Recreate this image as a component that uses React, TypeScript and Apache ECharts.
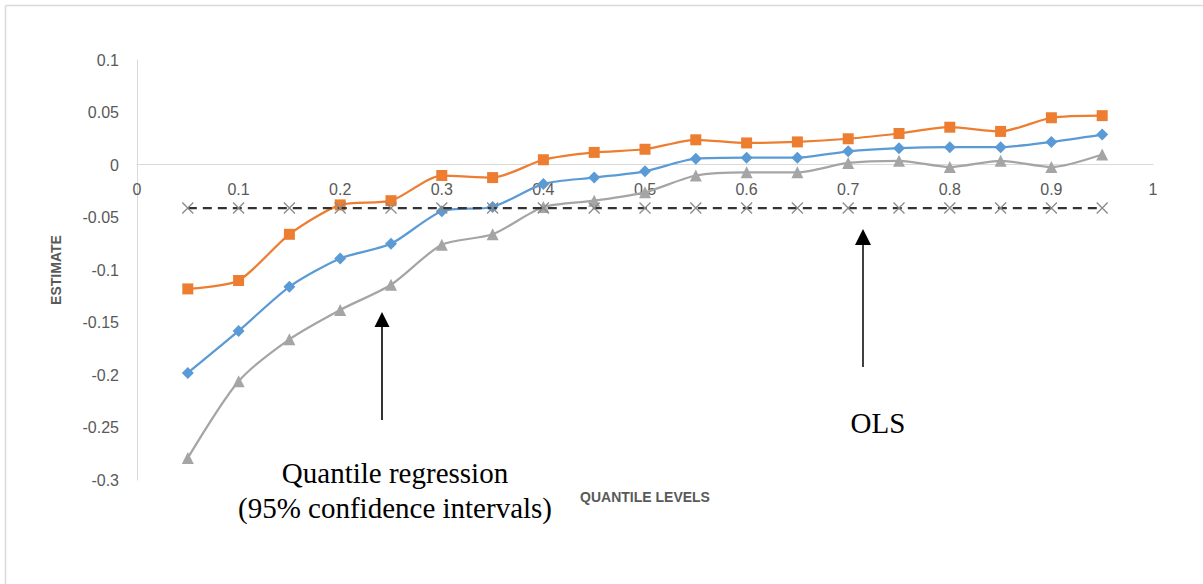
import React, { useEffect, useRef } from "react";
import * as echarts from "echarts";

const quantiles = [0.05, 0.1, 0.15, 0.2, 0.25, 0.3, 0.35, 0.4, 0.45, 0.5, 0.55, 0.6, 0.65, 0.7, 0.75, 0.8, 0.85, 0.9, 0.95];
const upperCI = [-0.118, -0.110, -0.066, -0.038, -0.034, -0.010, -0.012, 0.005, 0.012, 0.015, 0.024, 0.021, 0.022, 0.025, 0.030, 0.036, 0.032, 0.045, 0.047];
const estimate = [-0.198, -0.158, -0.116, -0.089, -0.075, -0.044, -0.040, -0.018, -0.012, -0.006, 0.006, 0.007, 0.007, 0.013, 0.016, 0.017, 0.017, 0.022, 0.029];
const lowerCI = [-0.279, -0.206, -0.166, -0.138, -0.114, -0.076, -0.066, -0.040, -0.034, -0.026, -0.010, -0.007, -0.007, 0.002, 0.004, -0.002, 0.004, -0.002, 0.010];
const olsValue = [-0.041, -0.041, -0.041, -0.041, -0.041, -0.041, -0.041, -0.041, -0.041, -0.041, -0.041, -0.041, -0.041, -0.041, -0.041, -0.041, -0.041, -0.041, -0.041];

const xTitle = "QUANTILE LEVELS";
const yTitle = "ESTIMATE";
const qrLabel1 = "Quantile regression";
const qrLabel2 = "(95% confidence intervals)";
const olsLabel = "OLS";

const pair = (vals: number[]) => quantiles.map((q, i) => [q, vals[i]]);

export default function App() {
  const ref = useRef<HTMLDivElement>(null);
  useEffect(() => {
    if (!ref.current) return;
    const chart = echarts.init(ref.current, null, { renderer: "svg" });
    const labelFont = { fontFamily: "Liberation Sans", fontSize: 16, color: "#595959" };
    const lineSeries = (name: string, vals: number[], color: string, symbol: string, size: number) => ({
      name,
      type: "line",
      data: pair(vals),
      smooth: 0.25,
      symbol,
      symbolSize: size,
      lineStyle: { color, width: 2.25 },
      itemStyle: { color },
      z: 3,
    });
    chart.setOption({
      animation: false,
      backgroundColor: "#ffffff",
      grid: { left: 137, right: 50, top: 60, bottom: 104, containLabel: false },
      xAxis: {
        type: "value",
        min: 0,
        max: 1,
        interval: 0.1,
        position: "bottom",
        offset: -316,
        axisLine: { show: true, onZero: false, lineStyle: { color: "#d9d9d9", width: 1 } },
        axisTick: { show: false },
        splitLine: { show: false },
        axisLabel: { ...labelFont, margin: 17, showMinLabel: true, showMaxLabel: true },
      },
      yAxis: {
        type: "value",
        min: -0.3,
        max: 0.1,
        interval: 0.05,
        name: yTitle,
        nameLocation: "middle",
        nameGap: 74,
        nameRotate: 90,
        nameTextStyle: { fontFamily: "Liberation Sans", fontSize: 14, fontWeight: "bold", color: "#595959" },
        axisLine: { show: true, onZero: false, lineStyle: { color: "#d9d9d9", width: 1 } },
        axisTick: { show: false },
        splitLine: { show: false },
        axisLabel: { ...labelFont, margin: 18 },
      },
      series: [
        lineSeries("Upper", upperCI, "#ED7D31", "rect", 11),
        lineSeries("Estimate", estimate, "#5B9BD5", "diamond", 12),
        lineSeries("Lower", lowerCI, "#A5A5A5", "triangle", 12),
        {
          name: "OLS",
          type: "line",
          data: pair(olsValue),
          symbol: "path://M0,0L10,10M10,0L0,10",
          symbolSize: 11,
          lineStyle: { color: "#333333", width: 2.25, type: [9, 6] },
          itemStyle: { color: "none", borderColor: "#8a8a8a", borderWidth: 1.3 },
          z: 4,
        },
      ],
      graphic: [
        { type: "line", shape: { x1: 5.5, y1: 5.5, x2: 1203, y2: 5.5 }, style: { stroke: "#d9d9d9", lineWidth: 1.5 } },
        { type: "line", shape: { x1: 5.5, y1: 5.5, x2: 5.5, y2: 584 }, style: { stroke: "#d9d9d9", lineWidth: 1.5 } },
        {
          type: "text",
          x: 645,
          y: 497,
          style: { text: xTitle, fontFamily: "Liberation Sans", fontSize: 14, fontWeight: "bold", fill: "#595959", textAlign: "center", textVerticalAlign: "middle" },
        },
        { type: "line", shape: { x1: 382, y1: 420, x2: 382, y2: 325 }, style: { stroke: "#000", lineWidth: 1.6 } },
        { type: "polygon", shape: { points: [[382, 312], [374.5, 327], [389.5, 327]] }, style: { fill: "#000" } },
        { type: "line", shape: { x1: 863, y1: 367, x2: 863, y2: 243 }, style: { stroke: "#404040", lineWidth: 2 } },
        { type: "polygon", shape: { points: [[863, 229], [855, 245], [871, 245]] }, style: { fill: "#000" } },
        {
          type: "text",
          x: 395,
          y: 473,
          style: { text: qrLabel1, fontFamily: "Liberation Serif", fontSize: 29, fill: "#000", textAlign: "center", textVerticalAlign: "middle" },
        },
        {
          type: "text",
          x: 395,
          y: 508,
          style: { text: qrLabel2, fontFamily: "Liberation Serif", fontSize: 29, fill: "#000", textAlign: "center", textVerticalAlign: "middle" },
        },
        {
          type: "text",
          x: 878,
          y: 423,
          style: { text: olsLabel, fontFamily: "Liberation Serif", fontSize: 29, fill: "#000", textAlign: "center", textVerticalAlign: "middle" },
        },
      ],
    });
    return () => chart.dispose();
  }, []);
  return <div ref={ref} style={{ position: "fixed", left: 0, top: 0, width: 1203, height: 584 }} />;
}
